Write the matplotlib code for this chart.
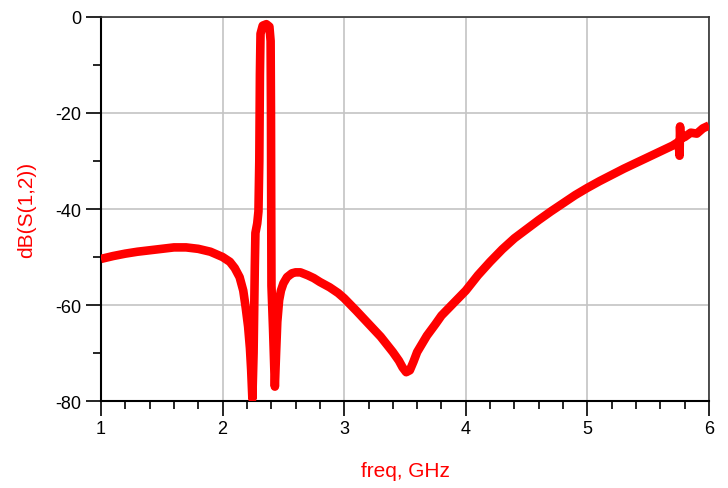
import numpy as np
import matplotlib
matplotlib.use("Agg")
import matplotlib.pyplot as plt
from matplotlib.ticker import MultipleLocator

plt.rcParams['font.family'] = ['Liberation Sans', 'DejaVu Sans']
plt.rcParams['axes.unicode_minus'] = False

# S(1,2) trace, freq in GHz and magnitude in dB
freq = [1.0, 1.1, 1.2, 1.3, 1.4, 1.5, 1.6, 1.7, 1.8, 1.9, 2.0, 2.06, 2.1,
        2.14, 2.17, 2.19, 2.21, 2.225, 2.235, 2.245, 2.255, 2.265, 2.27,
        2.285, 2.295, 2.302, 2.307, 2.312, 2.33, 2.36, 2.385, 2.395, 2.398,
        2.40, 2.402, 2.415, 2.43, 2.44, 2.45, 2.465, 2.48, 2.5, 2.53, 2.57,
        2.6, 2.64, 2.7, 2.75, 2.8, 2.88, 2.95, 3.0, 3.1, 3.2, 3.3, 3.4,
        3.45, 3.48, 3.51, 3.54, 3.57, 3.6, 3.68, 3.75, 3.8, 3.9, 4.0, 4.1,
        4.2, 4.3, 4.4, 4.5, 4.6, 4.7, 4.8, 4.9, 5.0, 5.1, 5.2, 5.3, 5.4,
        5.5, 5.6, 5.7, 5.75, 5.758, 5.762, 5.766, 5.78, 5.8, 5.85, 5.9,
        5.95, 6.0]
s12_db = [-50.4, -49.8, -49.3, -48.9, -48.6, -48.3, -48.0, -48.0, -48.3,
          -48.9, -50.0, -51.0, -52.3, -54.2, -57.0, -60.5, -64.5, -69.0,
          -73.5, -79.5, -70.0, -52.0, -45.0, -43.0, -40.5, -30.0, -12.0,
          -3.5, -1.8, -1.5, -2.0, -5.0, -20.0, -40.0, -56.0, -65.0, -77.0,
          -70.0, -63.5, -59.0, -57.0, -55.5, -54.2, -53.4, -53.2, -53.2,
          -53.8, -54.4, -55.2, -56.3, -57.5, -58.6, -61.2, -63.9, -66.6,
          -69.8, -71.6, -73.0, -74.0, -73.6, -71.8, -69.8, -66.4, -64.0,
          -62.2, -59.6, -57.0, -53.8, -51.0, -48.4, -46.1, -44.2, -42.3,
          -40.5, -38.8, -37.1, -35.6, -34.2, -32.9, -31.6, -30.4, -29.2,
          -28.0, -26.8, -26.0, -28.9, -22.8, -25.5, -25.2, -25.0, -24.1,
          -24.3, -23.2, -22.6]

fig = plt.figure(figsize=(7.28, 4.89), dpi=100)
ax = fig.add_axes([0.1387, 0.1779, 0.9739 - 0.1387, 0.9632 - 0.1779])

ax.plot(freq, s12_db, color='#ff0000', linewidth=6.2,
        solid_joinstyle='round', solid_capstyle='butt', zorder=3)

ax.set_xlim(1, 6)
ax.set_ylim(-80, 0)
ax.xaxis.set_major_locator(MultipleLocator(1))
ax.xaxis.set_minor_locator(MultipleLocator(0.2))
ax.yaxis.set_major_locator(MultipleLocator(20))
ax.yaxis.set_minor_locator(MultipleLocator(10))

ax.grid(True, which='major', color='#c4c4c4', linewidth=1.2, zorder=0)
ax.tick_params(which='major', direction='out', length=11, width=1.2,
               labelsize=13, pad=3, color='black')
ax.tick_params(which='minor', direction='out', length=5.5, width=1.2,
               color='black')
ax.tick_params(axis='x', which='both', top=False)
ax.tick_params(axis='y', which='both', right=False)

for side in ['left', 'bottom']:
    ax.spines[side].set_color('black')
    ax.spines[side].set_linewidth(1.5)
for side in ['top', 'right']:
    ax.spines[side].set_color('#333333')
    ax.spines[side].set_linewidth(1.2)

ax.set_xlabel("freq, GHz", color='#ff0000', fontsize=15, labelpad=17)
ax.set_ylabel("dB(S(1,2))", color='#ff0000', fontsize=15, labelpad=14)

fig.savefig("out.png", dpi=100)
